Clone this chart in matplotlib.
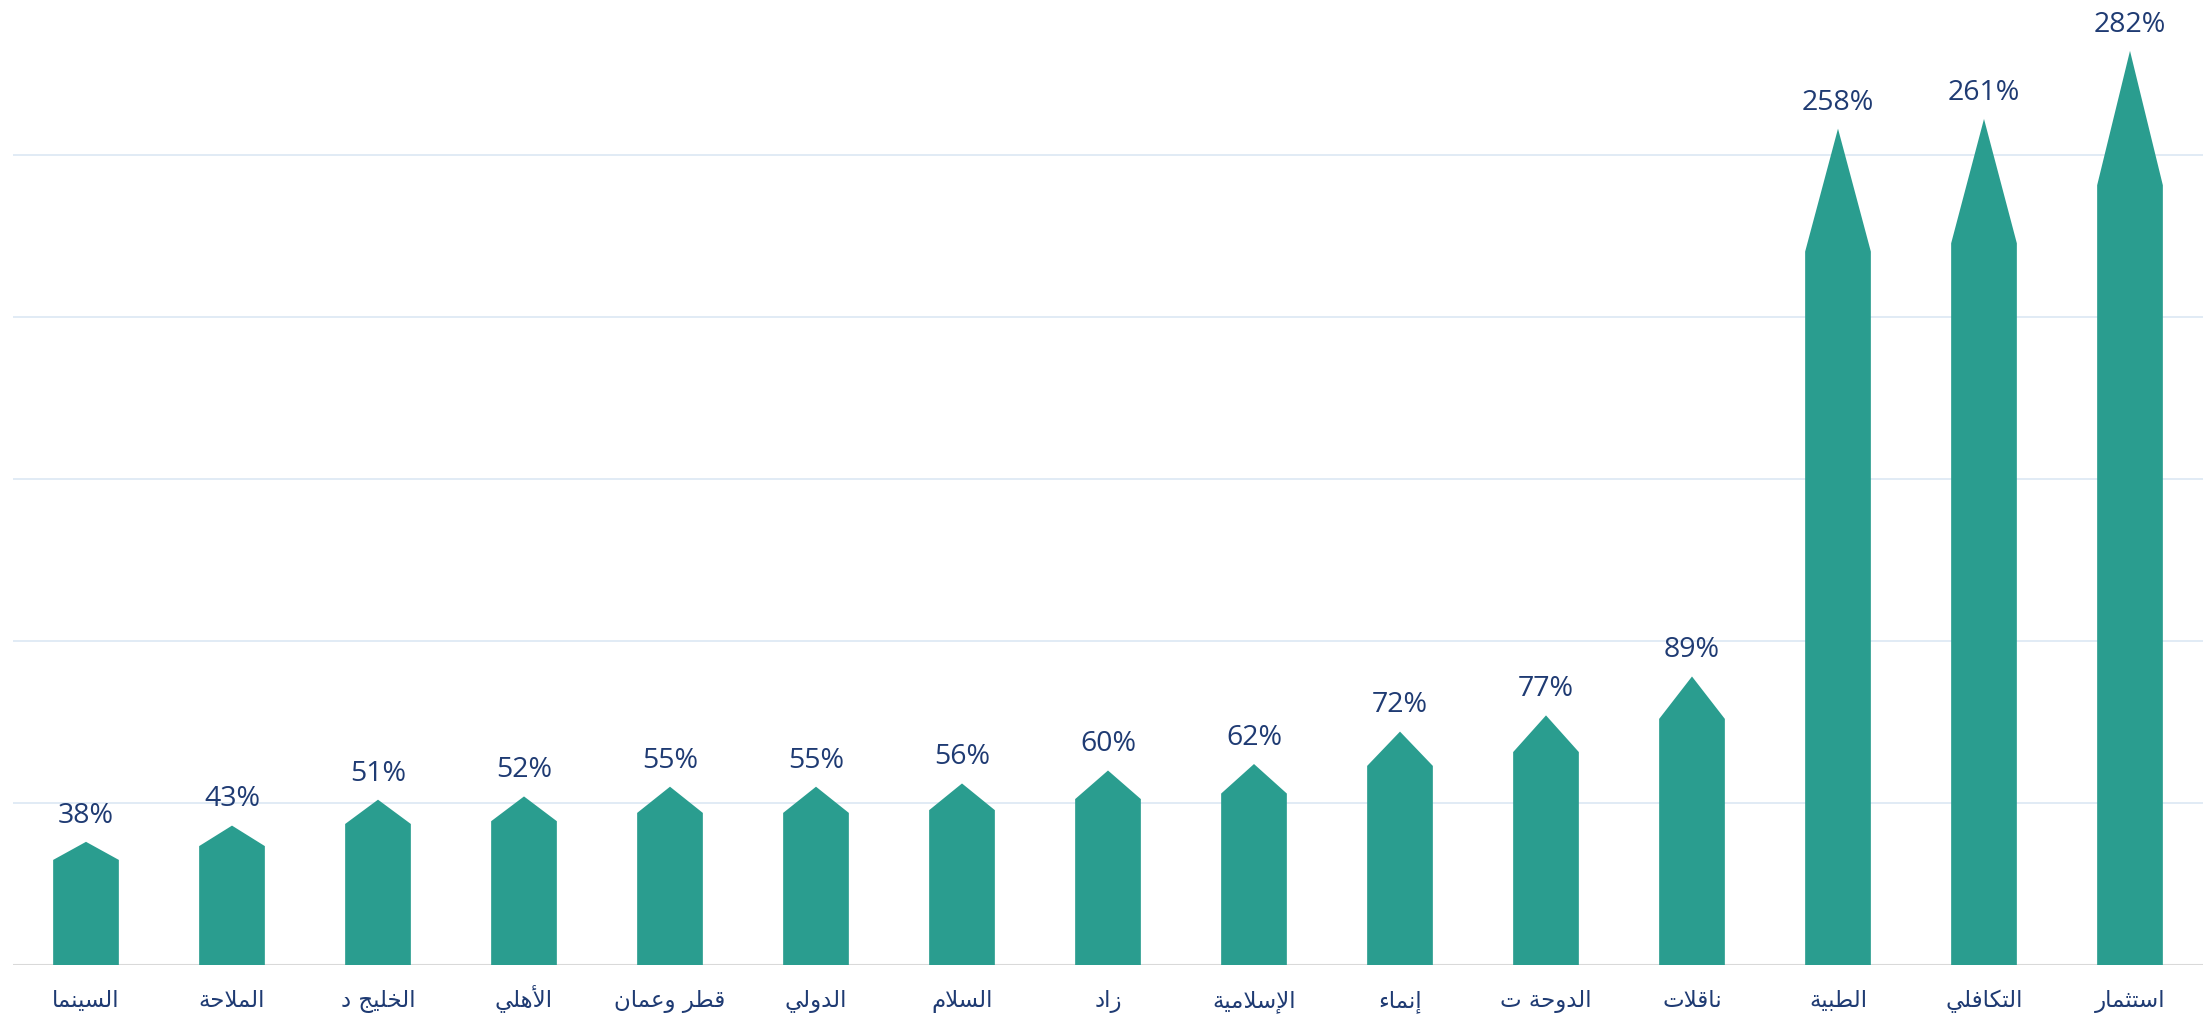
"""Pointed-bar chart of percentage values for 15 companies (Arabic labels)."""

import matplotlib

matplotlib.use("Agg")
import matplotlib.pyplot as plt

# Data, left to right as drawn
companies = [
    "السينما", "الملاحة", "الخليج د", "الأهلي", "قطر وعمان",
    "الدولي", "السلام", "زاد", "الإسلامية", "إنماء",
    "الدوحة ت", "ناقلات", "الطبية", "التكافلي", "استثمار",
]
values = [38, 43, 51, 52, 55, 55, 56, 60, 62, 72, 77, 89, 258, 261, 282]
value_labels = [f"{v}%" for v in values]
gridlines = [50, 100, 150, 200, 250]

BAR_COLOR = "#2A9D8F"
TEXT_COLOR = "#1F3B73"
GRID_COLOR = "#DCE7F3"
AXIS_COLOR = "#D9D9D9"
BAR_WIDTH = 0.45
TIP = 0.147  # share of the bar height taken by the pointed top

# --- minimal Arabic shaping (matplotlib has no complex text layout) ---
# letter -> (isolated presentation form, number of forms)
FORMS = {
    "ء": (0xFE80, 1), "آ": (0xFE81, 2), "أ": (0xFE83, 2), "ؤ": (0xFE85, 2),
    "إ": (0xFE87, 2), "ئ": (0xFE89, 4), "ا": (0xFE8D, 2), "ب": (0xFE8F, 4),
    "ة": (0xFE93, 2), "ت": (0xFE95, 4), "ث": (0xFE99, 4), "ج": (0xFE9D, 4),
    "ح": (0xFEA1, 4), "خ": (0xFEA5, 4), "د": (0xFEA9, 2), "ذ": (0xFEAB, 2),
    "ر": (0xFEAD, 2), "ز": (0xFEAF, 2), "س": (0xFEB1, 4), "ش": (0xFEB5, 4),
    "ص": (0xFEB9, 4), "ض": (0xFEBD, 4), "ط": (0xFEC1, 4), "ظ": (0xFEC5, 4),
    "ع": (0xFEC9, 4), "غ": (0xFECD, 4), "ف": (0xFED1, 4), "ق": (0xFED5, 4),
    "ك": (0xFED9, 4), "ل": (0xFEDD, 4), "م": (0xFEE1, 4), "ن": (0xFEE5, 4),
    "ه": (0xFEE9, 4), "و": (0xFEED, 2), "ى": (0xFEEF, 2), "ي": (0xFEF1, 4),
}
LAM_ALEF = {"آ": 0xFEF5, "أ": 0xFEF7, "إ": 0xFEF9, "ا": 0xFEFB}


def shape_arabic(text):
    # merge lam + alef into ligature tokens first
    tokens = []
    i = 0
    while i < len(text):
        if text[i] == "ل" and i + 1 < len(text) and text[i + 1] in LAM_ALEF:
            tokens.append(("LA", text[i + 1]))
            i += 2
        else:
            tokens.append(("C", text[i]))
            i += 1

    def joins_left(tok):  # can connect to the following letter
        return tok[0] == "C" and FORMS.get(tok[1], (0, 0))[1] == 4

    def joining(tok):
        return tok[0] == "LA" or FORMS.get(tok[1], (0, 0))[1] >= 2

    out = []
    for k, tok in enumerate(tokens):
        prev_j = k > 0 and joins_left(tokens[k - 1]) and joining(tok)
        if tok[0] == "LA":
            out.append(chr(LAM_ALEF[tok[1]] + (1 if prev_j else 0)))
            continue
        ch = tok[1]
        if ch not in FORMS:
            out.append(ch)
            continue
        base, n = FORMS[ch]
        next_j = n == 4 and k + 1 < len(tokens) and joining(tokens[k + 1])
        if n == 1:
            out.append(chr(base))
        elif prev_j and next_j:
            out.append(chr(base + 3))
        elif prev_j:
            out.append(chr(base + 1))
        elif next_j:
            out.append(chr(base + 2))
        else:
            out.append(chr(base))
    return "".join(reversed(out))


fig = plt.figure(figsize=(22.08, 10.2), dpi=100)
ax = fig.add_axes([13 / 2208, 54 / 1020, 2190 / 2208, 966 / 1020])

x = list(range(len(values)))
for xi, v, lbl in zip(x, values, value_labels):
    body = v * (1 - TIP)
    half = BAR_WIDTH / 2
    ax.fill(
        [xi - half, xi - half, xi, xi + half, xi + half],
        [0, body, v, body, 0],
        color=BAR_COLOR,
        linewidth=0,
        zorder=3,
    )
    ax.annotate(
        lbl,
        (xi, v),
        xytext=(0, 14.5),
        textcoords="offset points",
        ha="center",
        va="baseline",
        fontsize=20.5,
        family=["Open Sans", "DejaVu Sans"],
        color=TEXT_COLOR,
        zorder=4,
    )

for g in gridlines:
    ax.axhline(g, color=GRID_COLOR, linewidth=1.2, zorder=1)
ax.axhline(0, color=AXIS_COLOR, linewidth=2.2, zorder=2)

ax.set_xlim(-0.5, len(values) - 0.5)
ax.set_ylim(0, 298)
ax.set_yticks([])
ax.set_xticks(x)
ax.set_xticklabels(
    [shape_arabic(c) for c in companies],
    fontsize=16.5,
    family=["DejaVu Sans"],
    color=TEXT_COLOR,
    va="baseline",
)
ax.tick_params(axis="x", length=0, pad=29.5)
for side in ["top", "right", "left", "bottom"]:
    ax.spines[side].set_visible(False)

fig.savefig("out.png", dpi=100, facecolor="white")
